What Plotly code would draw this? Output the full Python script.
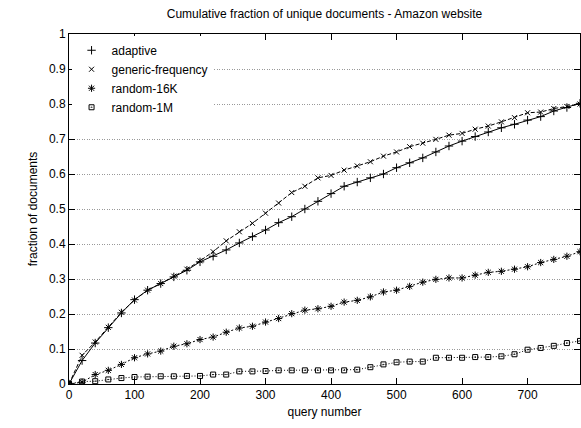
import plotly.graph_objects as go

queries = list(range(0, 781, 20))

adaptive = [0.0, 0.067, 0.117, 0.161, 0.203, 0.241, 0.268, 0.287, 0.306, 0.325,
            0.349, 0.365, 0.383, 0.403, 0.421, 0.440, 0.461, 0.478, 0.500, 0.522,
            0.544, 0.565, 0.577, 0.589, 0.600, 0.618, 0.632, 0.646, 0.663, 0.680,
            0.694, 0.707, 0.720, 0.732, 0.742, 0.754, 0.764, 0.780, 0.790, 0.802]

generic_frequency = [0.0, 0.082, 0.120, 0.162, 0.205, 0.240, 0.268, 0.287, 0.308, 0.328,
                     0.352, 0.378, 0.409, 0.435, 0.459, 0.488, 0.517, 0.547, 0.565, 0.589,
                     0.596, 0.611, 0.623, 0.635, 0.651, 0.663, 0.678, 0.688, 0.699, 0.711,
                     0.716, 0.728, 0.737, 0.749, 0.761, 0.775, 0.777, 0.787, 0.793, 0.800]

random_16k = [0.0, 0.005, 0.027, 0.039, 0.056, 0.075, 0.086, 0.094, 0.108, 0.115,
              0.127, 0.134, 0.148, 0.160, 0.165, 0.177, 0.187, 0.201, 0.211, 0.215,
              0.222, 0.234, 0.239, 0.249, 0.263, 0.268, 0.279, 0.291, 0.299, 0.303,
              0.303, 0.311, 0.319, 0.322, 0.328, 0.335, 0.347, 0.356, 0.365, 0.378]

random_1m = [0.0, 0.007, 0.008, 0.013, 0.017, 0.020, 0.021, 0.022, 0.022, 0.023,
             0.023, 0.027, 0.027, 0.036, 0.036, 0.037, 0.039, 0.039, 0.039, 0.039,
             0.039, 0.039, 0.041, 0.048, 0.056, 0.062, 0.064, 0.064, 0.075, 0.075,
             0.075, 0.077, 0.077, 0.079, 0.085, 0.098, 0.103, 0.109, 0.117, 0.123]

series = [
    ("adaptive", adaptive, "solid", "cross-thin-open", 6),
    ("generic-frequency", generic_frequency, "4px,2px", "x-thin-open", 5),
    ("random-16K", random_16k, "2px,2px", "asterisk-open", 6),
    ("random-1M", random_1m, "1px,2px", "square-open-dot", 5),
]

fig = go.Figure()
for name, vals, dash, sym, size in series:
    fig.add_trace(go.Scatter(
        x=queries, y=vals, mode="lines", showlegend=False,
        line=dict(color="black", width=1, dash=dash), hoverinfo="skip"))
for name, vals, dash, sym, size in series:
    fig.add_trace(go.Scatter(
        x=queries, y=vals, mode="markers", name=name,
        marker=dict(symbol=sym, size=size, color="black",
                    line=dict(color="black", width=1))))

font = "Liberation Sans, Arial, sans-serif"
fig.update_layout(
    width=581, height=428,
    margin=dict(l=69, r=1, t=34, b=44),
    paper_bgcolor="white", plot_bgcolor="white",
    font=dict(family=font, size=12, color="black"),
    title=dict(text="Cumulative fraction of unique documents - Amazon website",
               x=0.5, xref="paper", y=1 - 14 / 428, yanchor="middle",
               font=dict(size=12, family=font)),
    legend=dict(x=0.005, y=0.995, xanchor="left", yanchor="top",
                bgcolor="white", font=dict(size=12), tracegroupgap=0,
                itemwidth=30),
    xaxis=dict(range=[0, 780], tickmode="array", tickvals=list(range(0, 701, 100)),
               ticks="inside", ticklen=6, tickcolor="black", showline=True,
               linecolor="black", linewidth=1, mirror="ticks", showgrid=False,
               zeroline=False,
               title=dict(text="query number", standoff=6, font=dict(size=12))),
    yaxis=dict(range=[0, 1], dtick=0.1, ticks="inside", ticklen=6, tickcolor="black",
               showline=True, linecolor="black", linewidth=1, mirror="ticks",
               showgrid=True, gridcolor="#999", griddash="1px,1.5px", gridwidth=1,
               zeroline=False,
               title=dict(text="fraction of documents", standoff=8, font=dict(size=12))),
)

fig.write_html("out.html")
